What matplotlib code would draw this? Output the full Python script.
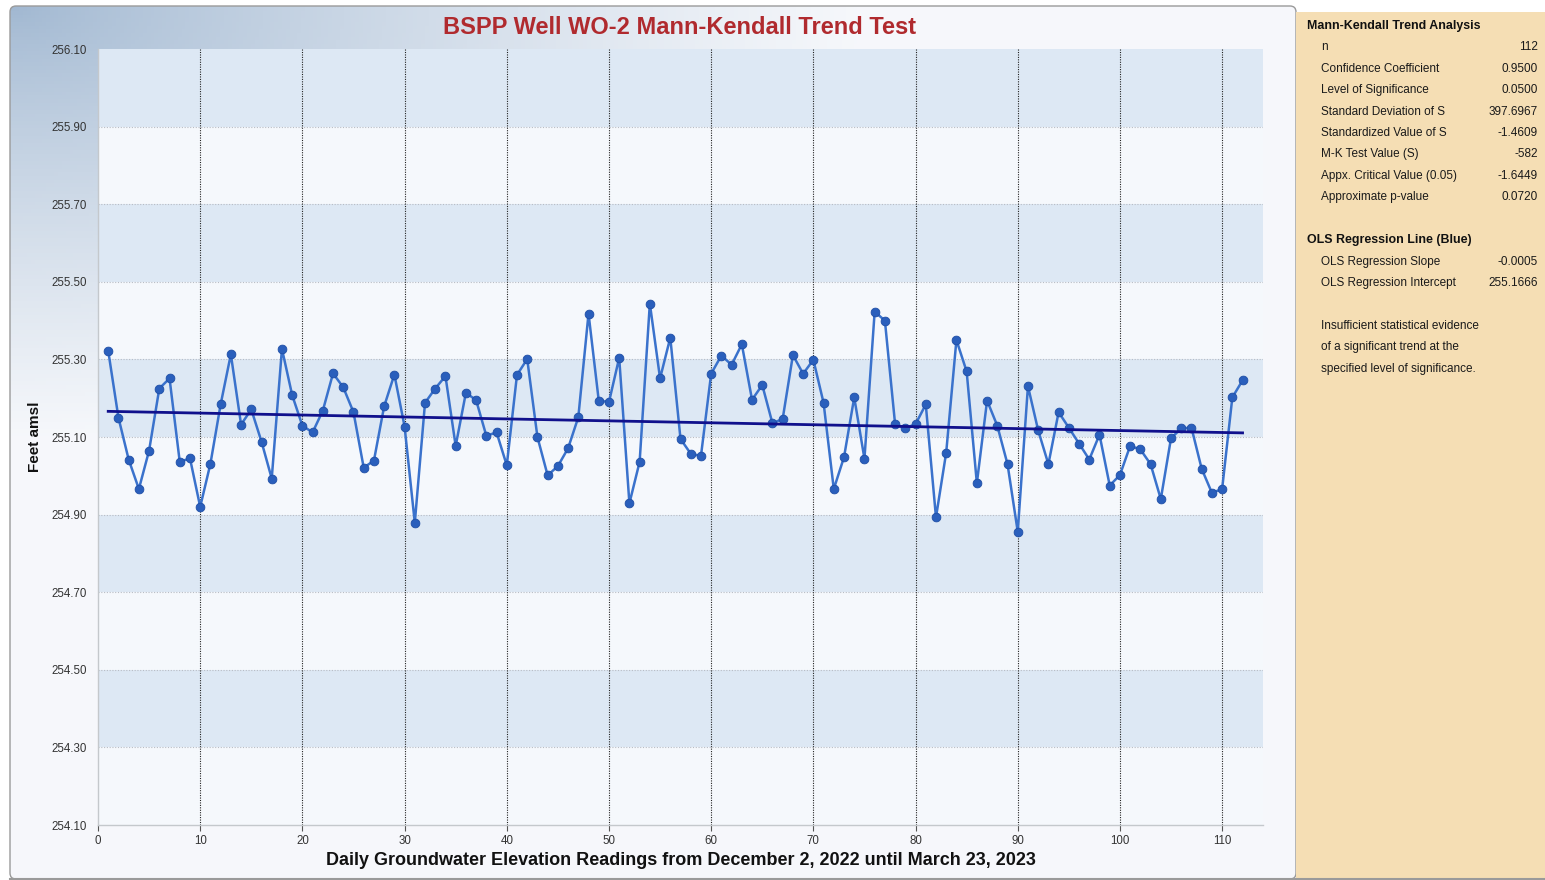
import numpy as np
import matplotlib
matplotlib.use("Agg")
import matplotlib.pyplot as plt
from matplotlib.patches import FancyBboxPatch, Rectangle

# ---------------- data ----------------
days = list(range(1, 113))
elevation = [
    255.322, 255.150, 255.042, 254.966, 255.065, 255.225, 255.251, 255.036, 255.045, 254.920,
    255.031, 255.184, 255.313, 255.132, 255.171, 255.088, 254.993, 255.327, 255.208, 255.129,
    255.112, 255.168, 255.264, 255.228, 255.164, 255.021, 255.039, 255.179, 255.261, 255.127,
    254.879, 255.188, 255.225, 255.257, 255.077, 255.214, 255.195, 255.103, 255.112, 255.027,
    255.260, 255.301, 255.100, 255.001, 255.025, 255.071, 255.151, 255.418, 255.194, 255.190,
    255.304, 254.929, 255.036, 255.444, 255.251, 255.356, 255.095, 255.057, 255.051, 255.263,
    255.310, 255.286, 255.339, 255.196, 255.234, 255.135, 255.147, 255.311, 255.263, 255.299,
    255.188, 254.966, 255.048, 255.202, 255.044, 255.423, 255.400, 255.133, 255.123, 255.133,
    255.184, 254.893, 255.060, 255.350, 255.269, 254.981, 255.194, 255.129, 255.030, 254.856,
    255.231, 255.117, 255.030, 255.164, 255.124, 255.083, 255.042, 255.106, 254.975, 255.002,
    255.077, 255.068, 255.030, 254.940, 255.097, 255.122, 255.124, 255.018, 254.956, 254.966,
    255.202, 255.246,
]
ols_slope = -0.0005
ols_intercept = 255.1666

yticks = [254.10, 254.30, 254.50, 254.70, 254.90, 255.10, 255.30, 255.50, 255.70, 255.90, 256.10]
xticks = [0, 10, 20, 30, 40, 50, 60, 70, 80, 90, 100, 110]

title = "BSPP Well WO-2 Mann-Kendall Trend Test"
xlabel = "Daily Groundwater Elevation Readings from December 2, 2022 until March 23, 2023"
ylabel = "Feet amsl"

mk_title = "Mann-Kendall Trend Analysis"
mk_labels = ["n", "Confidence Coefficient", "Level of Significance", "Standard Deviation of S",
             "Standardized Value of S", "M-K Test Value (S)", "Appx. Critical Value (0.05)",
             "Approximate p-value"]
mk_values = ["112", "0.9500", "0.0500", "397.6967", "-1.4609", "-582", "-1.6449", "0.0720"]
ols_title = "OLS Regression Line (Blue)"
ols_labels = ["OLS Regression Slope", "OLS Regression Intercept"]
ols_values = ["-0.0005", "255.1666"]
notes = ["Insufficient statistical evidence", "of a significant trend at the",
         "specified level of significance."]

# ---------------- figure ----------------
W, H = 1545, 880
fig = plt.figure(figsize=(W / 100, H / 100), dpi=100)
fig.patch.set_facecolor("white")
plt.rcParams["font.family"] = ["Liberation Sans", "DejaVu Sans"]

# background overlay axes in pixel coordinates
bg = fig.add_axes([0, 0, 1, 1])
bg.set_xlim(0, W)
bg.set_ylim(H, 0)
bg.axis("off")

# gradient background of chart frame
gx = np.linspace(0, W, 400)
gy = np.linspace(0, H, 240)
GX, GY = np.meshgrid(gx, gy)
t = np.clip(np.sqrt(((GX - 10) / 850.0) ** 2 + ((GY - 6) / 430.0) ** 2), 0, 1)
t = t ** 0.8
c_dark = np.array([0.63, 0.72, 0.82])
c_light = np.array([0.965, 0.972, 0.985])
img = c_dark[None, None, :] * (1 - t[..., None]) + c_light[None, None, :] * t[..., None]
frame = FancyBboxPatch((10, 6), 1286, 873, boxstyle="round,pad=0,rounding_size=6",
                       facecolor="none", edgecolor="#9a9a9a", linewidth=1.0, zorder=3)
bg.add_patch(frame)
im = bg.imshow(img, extent=(0, W, H, 0), aspect="auto", zorder=1)
im.set_clip_path(frame)

# statistics panel
bg.add_patch(Rectangle((1296, 12), 249, 866, facecolor="#f5deb4", edgecolor="none", zorder=4))
bg.plot([10, W], [879, 879], color="#9a9a9a", lw=1.5, zorder=5)

# panel texts
pfs = 8.5
bg.text(1307, 26, mk_title, fontsize=8.9, fontweight="bold", va="center", ha="left",
        color="#111111", zorder=6)
row_y = [47, 69, 90, 112, 133, 154, 176, 197]
for lab, val, yy in zip(mk_labels, mk_values, row_y):
    bg.text(1321, yy, lab, fontsize=pfs, va="center", ha="left", color="#1a1a1a", zorder=6)
    bg.text(1538, yy, val, fontsize=pfs, va="center", ha="right", color="#1a1a1a", zorder=6)
bg.text(1307, 240, ols_title, fontsize=8.9, fontweight="bold", va="center", ha="left",
        color="#111111", zorder=6)
for lab, val, yy in zip(ols_labels, ols_values, [262, 283]):
    bg.text(1321, yy, lab, fontsize=pfs, va="center", ha="left", color="#1a1a1a", zorder=6)
    bg.text(1538, yy, val, fontsize=pfs, va="center", ha="right", color="#1a1a1a", zorder=6)
for line, yy in zip(notes, [326, 347, 369]):
    bg.text(1321, yy, line, fontsize=pfs, va="center", ha="left", color="#1a1a1a", zorder=6)

# title
bg.text(680, 28, title, fontsize=17, fontweight="bold", color="#b02a2e", ha="center",
        va="center", zorder=6)

# ---------------- main plot ----------------
left, right, top, bottom = 98, 1263, 49, 825
ax = fig.add_axes([left / W, 1 - bottom / H, (right - left) / W, (bottom - top) / H])
ax.set_xlim(0, 114)
ax.set_ylim(254.10, 256.10)
ax.set_facecolor("#f5f8fc")

# alternating bands
for i in range(len(yticks) - 1):
    if (len(yticks) - 2 - i) % 2 == 0:
        ax.axhspan(yticks[i], yticks[i + 1], facecolor="#dde8f4", edgecolor="none", zorder=0)

for yv in yticks[1:-1]:
    ax.axhline(yv, color="#b8bcc4", lw=0.8, ls=(0, (1, 1.5)), zorder=1)
for xv in xticks[1:]:
    ax.axvline(xv, color="#222222", lw=0.8, ls=(0, (1, 1.2)), zorder=1)

ax.plot(days, elevation, color="#3a72cc", lw=1.8, zorder=3)
ax.plot(days, elevation, ls="none", marker="o", ms=6.3, mfc="#2a5fbc", mec="#1e4ea6",
        mew=0.6, zorder=4)

reg_x = np.array([days[0], days[-1]])
reg_y = ols_intercept + ols_slope * reg_x
ax.plot(reg_x, reg_y, color="#10108c", lw=2.0, zorder=5)

ax.set_yticks(yticks)
ax.set_yticklabels([f"{v:.2f}" for v in yticks])
ax.set_xticks(xticks)
ax.set_xticklabels([str(v) for v in xticks])
ax.tick_params(axis="y", length=0, pad=8, labelsize=8.3, labelcolor="#333333")
ax.tick_params(axis="x", length=4, width=0.8, color="#555555", pad=3, labelsize=8.3,
               labelcolor="#333333")

for side in ["top", "right"]:
    ax.spines[side].set_visible(False)
for side in ["left", "bottom"]:
    ax.spines[side].set_color("#c4c8cc")
    ax.spines[side].set_linewidth(1.0)

ax.set_xlabel(xlabel, fontsize=13, fontweight="bold", color="#111111", labelpad=4)
ax.set_ylabel(ylabel, fontsize=11, fontweight="bold", color="#111111")
ax.yaxis.set_label_coords(-0.048, 0.5)

fig.savefig("out.png", dpi=100)
